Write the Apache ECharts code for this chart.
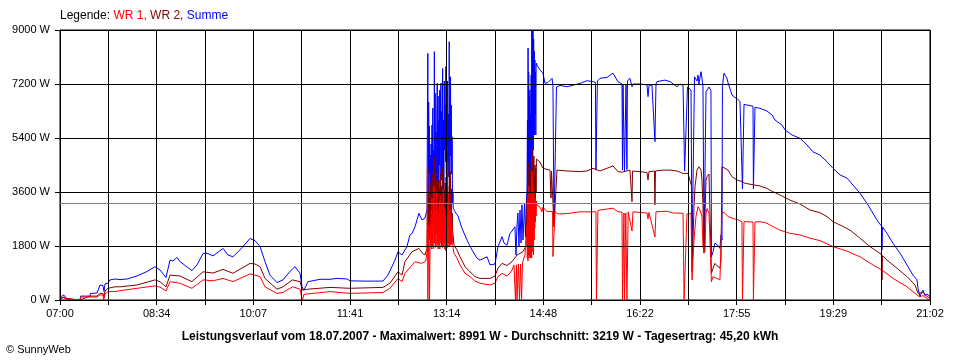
<!DOCTYPE html>
<html><head><meta charset="utf-8">
<script src="https://cdn.jsdelivr.net/npm/echarts@6/dist/echarts.min.js"></script>
<style>html,body{margin:0;padding:0;background:#fff}#c{width:960px;height:360px}</style>
</head><body><div id="c"></div>
<script>
// time axis: minutes after 07:00 (07:00 .. 21:02 = 842 min)
const xMin = 0;
const xMax = 842;
const xTickLabels = ['07:00','08:34','10:07','11:41','13:14','14:48','16:22','17:55','19:29','21:02'];
const yMax = 9000;
const yStep = 1800;
const avgValue = 3219;
const legendParts = ['Legende:', 'WR 1,', 'WR 2,', 'Summe'];
const footerText = 'Leistungsverlauf vom 18.07.2007 - Maximalwert: 8991 W - Durchschnitt: 3219 W - Tagesertrag: 45,20 kWh';
const copyrightText = '\u00a9 SunnyWeb';

// [minutes after 07:00, W]
const summe = [[0,0],[1.5,100],[3,170],[5,120],[6.8,30],[7.5,0],[19.4,0],[20,130],[29,130],[29.5,220],[35.8,230],[38.7,500],[41.6,480],[42.6,280],[43.6,540],[46.5,560],[48.4,670],[53.2,700],[58.1,680],[64.8,700],[74.5,800],[84.2,950],[91.9,1110],[96.8,1000],[102.6,750],[106.5,1330],[109.4,1300],[113.2,1420],[116.1,1280],[127.7,980],[132.6,1170],[138.4,1550],[142.3,1560],[148.1,1470],[157.8,1720],[162.6,1500],[167.4,1440],[176.1,1740],[183.9,2050],[188.7,1980],[193.6,1780],[198.4,1280],[203.2,830],[210,580],[215.8,670],[222.6,950],[227.4,1110],[232.3,890],[234.2,440],[236.1,330],[240,610],[251.6,690],[261.3,690],[268.1,720],[277.8,700],[280.7,640],[293.2,630],[312.6,630],[317.4,830],[324.2,1330],[327.1,1610],[331,1500],[335.8,1780],[338.7,2170],[340.7,2220],[343.6,2440],[345.5,2670],[347.4,2890],[348.4,2940],[350.3,2670],[353.2,2730],
[355.2,3000],[355.6,6200],[356.0,8220],[356.4,3600],[356.8,6600],[357.2,4200],[357.6,5800],[358.0,3300],[358.4,4830],[358.8,3500],[359.2,5200],[359.6,3400],[360.0,5830],[360.4,3800],[360.8,6400],[361.2,4000],[361.6,5000],[362.0,3600],[362.3,8280],[362.7,4000],[363.1,6900],[363.5,3300],[363.9,5600],[364.3,3200],[364.7,6200],[365.1,7220],[365.5,4300],[365.9,6800],[366.3,3900],[366.7,6000],[367.1,4500],[367.5,7000],[367.9,3600],[368.3,6800],[368.7,7230],[369.1,4000],[369.5,6300],[369.9,4400],[370.3,7720],[370.7,3700],[371.1,6000],[371.5,3400],[371.9,7300],[372.3,5000],[372.7,6500],[373.1,4600],[373.5,7780],[373.9,4200],[374.3,5600],[374.7,3800],[375.1,7300],[375.5,4600],[375.9,6200],[376.3,4100],[376.7,8610],[377.1,4400],[377.5,3900],[377.9,7440],[378.3,4800],[378.7,6500],[379.1,4200],[379.5,5440],[379.9,3200],[380.3,3600],[380.6,3060],
[382.3,2940],[385.2,2800],[389,2390],[393.9,2000],[398.7,1670],[403.6,1390],[406.5,1330],[413.3,1440],[416.2,1170],[421,1200],[423.9,1780],[427.8,2110],[429.7,1900],[432.6,1830],[435.5,2220],[437.5,2300],[440.3,2440],[441.3,1500],[442.3,2500],[443.2,2900],[444.2,1800],[445.2,3000],[446.2,1900],[447.1,3170],[448.1,2000],[449.6,3200],[450.5,2100],[451.5,3400],
[452.0,3700],[452.4,6000],[452.7,4200],[453.0,8400],[453.3,3500],[453.6,7600],[453.9,4000],[454.2,6800],[454.5,3800],[454.8,7000],[455.1,4200],[455.4,6200],[455.7,3600],[456.0,7500],[456.3,4800],[456.6,8991],[456.9,5200],[457.2,8991],[457.5,4500],[457.8,8991],[458.1,5000],[458.4,8700],[458.7,6000],[459.0,8300],[459.3,5500],[459.6,8000],[459.9,6200],[460.2,7600],[460.5,5500],[460.8,7800],[461.2,7900],[461.6,7830],
[464.5,7670],[467.4,7560],[469.4,7220],[472.3,7250],[476.2,7390],[477.1,7150],[478.1,2500],[479.6,2500],[480.5,7100],[481,7110],[483.9,7150],[490.7,7110],[503.3,7220],[510,7310],[515.8,7280],[518.2,7250],[518.7,4330],[519.7,4330],[520.1,7300],[522.6,7390],[529.4,7420],[535.2,7560],[537.1,7590],[540,7280],[543.9,7200],[544.4,4330],[544.9,7200],[545.8,7150],[546.3,4300],[547.3,4300],[547.8,7200],[548.7,4350],[549.2,7300],[551.6,7390],[553.6,7110],[554.5,7200],[561.3,7200],[568.1,7170],[569.1,6780],[570,7150],[572.9,7170],[575.8,5280],[576.8,7200],[577.8,7280],[585.5,7330],[590.4,7280],[592.3,7250],[597.1,7110],[600.1,7200],[603,7150],[604.5,4300],[606.3,4300],[607.3,7100],[607.8,7060],[610.7,7000],[611.7,1610],[613.1,1610],[614.1,7440],[616.5,7300],[617.5,7500],[618.4,7200],[620.4,7610],[621.3,7400],[622.3,7100],[623.3,1670],[624.2,1670],[625.2,6940],[626.2,7000],[628.1,7100],[630,6980],[630.5,1440],[632,1610],[633.9,1890],[635.9,1850],[636.8,1800],[638.7,1720],[639.7,2170],[640.7,2000],[641.1,7110],[642.6,7560],[645.5,7390],[646.5,7250],[650.4,6830],[653.2,6750],[655.2,6720],[658.1,6610],[660,6560],[660.5,3700],[661.5,3700],[662,6520],[662.9,6500],[667.8,6480],[670.7,6460],[671.1,3700],[672.1,3700],[672.6,6420],[674.5,6390],[677.5,6390],[684.2,6300],[689.1,6170],[692,6000],[698.8,5830],[701.7,5670],[708.5,5500],[716.2,5390],[722.9,5170],[728.8,4940],[735.5,4830],[742.3,4610],[748.1,4390],[754.9,4170],[761.7,4060],[767.5,3830],[774.2,3560],[781,3220],[786.8,2890],[791.7,2610],[795,2470],[795.5,1670],[796,2440],[800.4,2220],[806.2,1890],[813,1560],[819.7,1170],[825.5,830],[829.4,670],[830.4,390],[832.3,110],[833.8,250],[835.2,330],[837.1,150],[839.1,200],[842,110]];

const wr2 = [[0,0],[1.5,60],[3,100],[5,60],[6.8,0],[19.4,0],[20,55],[29,130],[35.8,130],[38.7,220],[41.6,220],[42.6,100],[43.6,300],[46.5,390],[48.4,410],[53.2,440],[58.1,440],[74.5,500],[91.9,670],[96.8,610],[102.6,440],[106.5,830],[116.1,800],[127.7,610],[138.4,940],[148.1,900],[157.8,1020],[167.4,890],[183.9,1220],[188.7,1200],[193.6,1110],[198.4,720],[210,360],[215.8,440],[225,670],[232.3,610],[234.6,330],[240,360],[261.3,420],[280.7,390],[312.6,420],[319.4,560],[327.1,940],[331,830],[333.9,1280],[340.7,1610],[347.4,1720],[351,1550],[353.2,1500],
[355.2,1720],[355.6,3000],[356.0,4390],[356.4,1600],[356.8,3600],[357.2,2000],[357.6,3300],[358.0,2100],[358.4,3800],[358.8,2300],[359.2,3900],[359.6,2100],[360.0,4000],[360.4,2300],[360.8,4200],[361.2,2500],[361.6,3700],[362.0,4780],[362.4,2500],[362.8,4500],[363.2,2200],[363.6,3800],[364.0,2400],[364.4,4000],[364.8,2200],[365.2,4300],[365.6,2600],[366.0,3900],[366.4,2300],[366.8,4000],[367.2,2500],[367.6,3700],[368.0,2100],[368.4,4200],[368.8,2600],[369.2,3800],[369.6,2400],[370.0,4100],[370.4,4400],[370.8,2300],[371.2,3600],[371.6,2500],[372.0,3700],[372.4,2000],[372.8,3900],[373.2,2300],[373.6,4100],[374.0,2200],[374.4,3400],[374.8,2200],[375.2,3800],[375.6,2500],[376.0,3500],[376.4,2400],[376.8,4600],[377.2,2300],[377.6,3300],[378.0,4300],[378.4,2600],[378.8,3700],[379.2,2400],[379.6,2900],[380.0,2300],[380.6,2100],
[381.3,1830],[384.2,1670],[387.1,1440],[392,1110],[396.8,940],[401.6,780],[406.5,720],[416.2,720],[421,800],[423.9,1060],[427.8,1220],[432.6,1150],[437.5,1280],[442.3,1500],[448.1,1610],[451,1800],
[452.0,3390],[452.3,2400],[452.6,4300],[452.9,1800],[453.2,3900],[453.5,2100],[453.8,4600],[454.1,2200],[454.4,4000],[454.7,1900],[455.0,4300],[455.3,2300],[455.6,3600],[455.9,2000],[456.2,4400],[456.5,2600],[456.8,5060],[457.1,2400],[457.4,4800],[457.7,2600],[458.0,4500],[458.3,2200],[458.6,4800],[458.9,2800],[459.2,4200],[459.5,3000],[459.8,4500],[460.1,3300],[460.4,4400],[460.8,3600],[461.1,4700],[461.6,4670],
[464.5,4600],[467.4,4390],[474.2,4330],[475.2,3400],[475.7,4300],[477.1,4300],[478.1,2440],[480,2440],[481,4330],[490.7,4300],[503.3,4280],[510,4300],[515.8,4390],[522.6,4300],[535.2,4470],[540,4280],[543.9,4260],[551.6,4330],[553.1,4280],[553.6,3280],[554.1,4300],[568.1,4250],[569.1,4000],[570,4280],[575.3,4300],[575.8,3170],[576.3,4300],[583.6,4330],[590.4,4330],[597.1,4300],[603,4220],[607.8,4220],[609.7,4170],[611.2,3800],[611.7,940],[612.6,940],[613.6,3110],[614.6,3780],[616.5,4330],[618.4,4440],[620.4,4330],[621.3,4000],[622.3,3110],[623.3,1560],[624.2,1560],[625.2,4000],[626.2,4110],[628.1,4200],[630,4220],[630.5,890],[632,1060],[633.9,1220],[635.9,1140],[638.7,1060],[639.7,1300],[640.7,4440],[643.6,4390],[646.5,4330],[650.4,4110],[655.2,4000],[660,3950],[662.9,3890],[667.8,3860],[677.5,3800],[684.2,3720],[690,3610],[696.8,3500],[706.5,3330],[716.2,3200],[725.9,3000],[735.5,2910],[742.3,2780],[748.1,2610],[754.9,2500],[764.6,2330],[774.2,2060],[783.9,1780],[795,1520],[795.5,670],[796,1480],[800.4,1330],[810,1060],[819.7,780],[827.5,500],[830.4,220],[832.3,170],[835.2,250],[839.1,120],[842,55]];

const wr1 = [[0,0],[1.5,60],[3,90],[5,40],[6.8,0],[19.4,0],[20,100],[35.8,100],[38.7,170],[41.6,170],[42.3,0],[43.2,0],[43.6,200],[46.5,280],[53.2,280],[58.1,310],[74.5,390],[91.9,470],[96.8,430],[102.6,300],[106.5,610],[116.1,560],[127.7,390],[138.4,670],[148.1,640],[157.8,720],[167.4,610],[183.9,870],[188.7,830],[193.6,780],[198.4,440],[210,220],[215.8,250],[225,440],[232.3,360],[234,360],[234.5,0],[235.5,0],[236.1,190],[261.3,280],[280.7,220],[312.6,250],[319.4,390],[327.1,720],[331,610],[333.9,890],[343.6,1280],[350,1220],[354,1300],
[355.2,1600],[355.6,4390],[356.0,0],[356.4,0],[356.8,2500],[357.2,1700],[357.6,0],[358.0,0],[358.4,2600],[358.8,1800],[359.2,3000],[359.6,1700],[360.0,3400],[360.4,1800],[360.8,2900],[361.2,1700],[361.6,3200],[362.0,3800],[362.4,1900],[362.8,3200],[363.2,1750],[363.6,3000],[364.0,1800],[364.4,3400],[364.8,3600],[365.2,1850],[365.6,3100],[366.0,1700],[366.4,2900],[366.8,1850],[367.2,3300],[367.6,1700],[368.0,3500],[368.4,1900],[368.8,3000],[369.2,1800],[369.6,3200],[370.0,1750],[370.4,2800],[370.8,1800],[371.2,3700],[371.6,1900],[372.0,3100],[372.4,1700],[372.8,2800],[373.2,1650],[373.6,3000],[374.0,1800],[374.4,3300],[374.8,1750],[375.2,2900],[375.6,1800],[376.0,3600],[376.4,1900],[376.8,3000],[377.2,1800],[377.6,2700],[378.0,1850],[378.4,3000],[378.8,1850],[379.2,2500],[379.6,2200],[380.0,1900],[380.6,1700],
[381.3,1560],[384.2,1400],[387.1,1170],[392,890],[396.8,780],[401.6,630],[406.5,560],[416.2,500],[421,560],[423.9,780],[427.8,890],[429.7,850],[432.6,800],[435.5,900],[437.5,1000],[439.4,1170],[440.3,1170],[440.8,0],[441.3,0],[441.8,1170],[442.3,0],[443.2,0],[443.7,1200],[444.7,0],[445.2,0],[445.7,1200],[446.7,0],[447.1,0],[447.6,1250],[450,1500],
[452.0,2500],[452.3,1400],[452.6,3500],[452.9,1300],[453.2,3000],[453.5,1500],[453.8,3800],[454.1,1400],[454.4,3300],[454.7,1500],[455.0,3000],[455.3,1400],[455.6,3600],[455.9,1600],[456.2,3200],[456.5,1400],[456.8,4300],[457.1,1800],[457.4,3900],[457.7,1600],[458.0,3400],[458.3,1500],[458.6,3600],[458.9,2000],[459.2,3300],[459.5,2400],[459.8,3400],[460.1,2600],[460.4,3300],[460.8,2800],[461.1,3300],[461.6,3170],
[464.5,3100],[466.5,2940],[467.4,3100],[471.3,2950],[474.2,2950],[476.7,2950],[477.1,1450],[478.1,1500],[479.1,2940],[482,2870],[490.7,2880],[503.3,2940],[518.7,2940],[519.2,0],[520.1,0],[520.6,2980],[522.6,3000],[535.2,3060],[540,2940],[543.9,2930],[544.4,0],[545.3,0],[545.8,2900],[546.3,0],[547.1,0],[547.6,2900],[548.7,0],[549.4,0],[549.9,2940],[551.6,2940],[553.6,2300],[554.5,2940],[568.1,2900],[569.1,2700],[570,2920],[575.8,2100],[576.8,2940],[587.5,2960],[593.3,2900],[603,2890],[604,0],[605.8,0],[606.8,2870],[610.7,2890],[611.7,670],[612.6,670],[613.6,2000],[615.5,2780],[617.5,3110],[619.4,3000],[621.3,2780],[622.3,1780],[624.2,1610],[625.2,2900],[626.2,3050],[628.1,2890],[630,2900],[630.5,610],[632,780],[633.9,800],[635.9,720],[638.7,670],[640.2,700],[640.7,2940],[643.6,2890],[646.5,2780],[651.3,2720],[656.2,2670],[660,2610],[660.5,0],[661.5,0],[662,2610],[664.9,2610],[670.7,2600],[671.1,0],[672.1,0],[672.6,2600],[677.5,2610],[684.2,2560],[687.1,2500],[696.8,2330],[706.5,2220],[716.2,2170],[725.9,2060],[735.5,1980],[748.1,1780],[761.7,1630],[774.2,1440],[786.8,1170],[795.5,1000],[806.2,720],[819.7,440],[829.4,170],[832.3,100],[835.2,150],[839.1,50],[842,0]];

const colWR1 = '#ff0000', colWR2 = '#800000', colSum = '#0000ff';
const FONT = 'Liberation Sans';
const xStep = (xMax - xMin) / 18;

const chart = echarts.init(document.getElementById('c'), null, {renderer: 'canvas'});
const axisCommon = {
  axisLine: {show: true, onZero: false, lineStyle: {color: '#000', width: 1}},
  axisTick: {show: true, length: 5, lineStyle: {color: '#000', width: 1}},
  splitLine: {show: true, lineStyle: {color: '#000', width: 1, type: 'solid'}},
  z: 3
};
chart.setOption({
  animation: false,
  backgroundColor: '#fff',
  grid: {left: 60, right: 30, top: 30, bottom: 60, show: true, borderColor: '#000', borderWidth: 1, containLabel: false},
  title: [
    {text: `{k|${legendParts[0]}} {a|${legendParts[1]}} {b|${legendParts[2]}} {c|${legendParts[3]}}`,
     left: 60, top: 10, padding: 0,
     textStyle: {fontFamily: FONT, fontSize: 12, fontWeight: 'normal',
       rich: {k: {color: '#000', fontFamily: FONT, fontSize: 12}, a: {color: colWR1, fontFamily: FONT, fontSize: 12},
              b: {color: colWR2, fontFamily: FONT, fontSize: 12}, c: {color: colSum, fontFamily: FONT, fontSize: 12}}}},
    {text: footerText, left: 'center', top: 331, padding: 0,
     textStyle: {fontFamily: FONT, fontSize: 12, fontWeight: 'bold', color: '#000'}},
    {text: copyrightText, left: 6, top: 344, padding: 0,
     textStyle: {fontFamily: FONT, fontSize: 11, fontWeight: 'normal', color: '#000'}}
  ],
  xAxis: Object.assign({
    type: 'value', min: xMin, max: xMax, interval: xStep,
    axisLabel: {color: '#000', fontFamily: FONT, fontSize: 11, margin: 8, showMinLabel: true, showMaxLabel: true, hideOverlap: false,
      formatter: v => { const i = Math.round((v - xMin) / xStep); return i % 2 === 0 ? (xTickLabels[i / 2] || '') : ''; }}
  }, axisCommon),
  yAxis: Object.assign({
    type: 'value', min: 0, max: yMax, interval: yStep,
    axisLabel: {color: '#000', fontFamily: FONT, fontSize: 11, margin: 10, formatter: v => String(v) + ' W'}
  }, axisCommon),
  series: [
    {name: 'Summe', type: 'line', data: summe, showSymbol: false, sampling: 'none', z: 2,
     lineStyle: {color: colSum, width: 1}, itemStyle: {color: colSum}},
    {name: 'WR 2', type: 'line', data: wr2, showSymbol: false, z: 2,
     lineStyle: {color: colWR2, width: 1}, itemStyle: {color: colWR2}},
    {name: 'WR 1', type: 'line', data: wr1, showSymbol: false, z: 2,
     lineStyle: {color: colWR1, width: 1}, itemStyle: {color: colWR1}},
    {name: 'avg', type: 'line', data: [], z: 5,
     markLine: {silent: true, symbol: 'none', label: {show: false}, animation: false,
       lineStyle: {color: '#808080', width: 1, type: 'solid'}, data: [{yAxis: avgValue}]}}
  ]
});
</script>
</body></html>
